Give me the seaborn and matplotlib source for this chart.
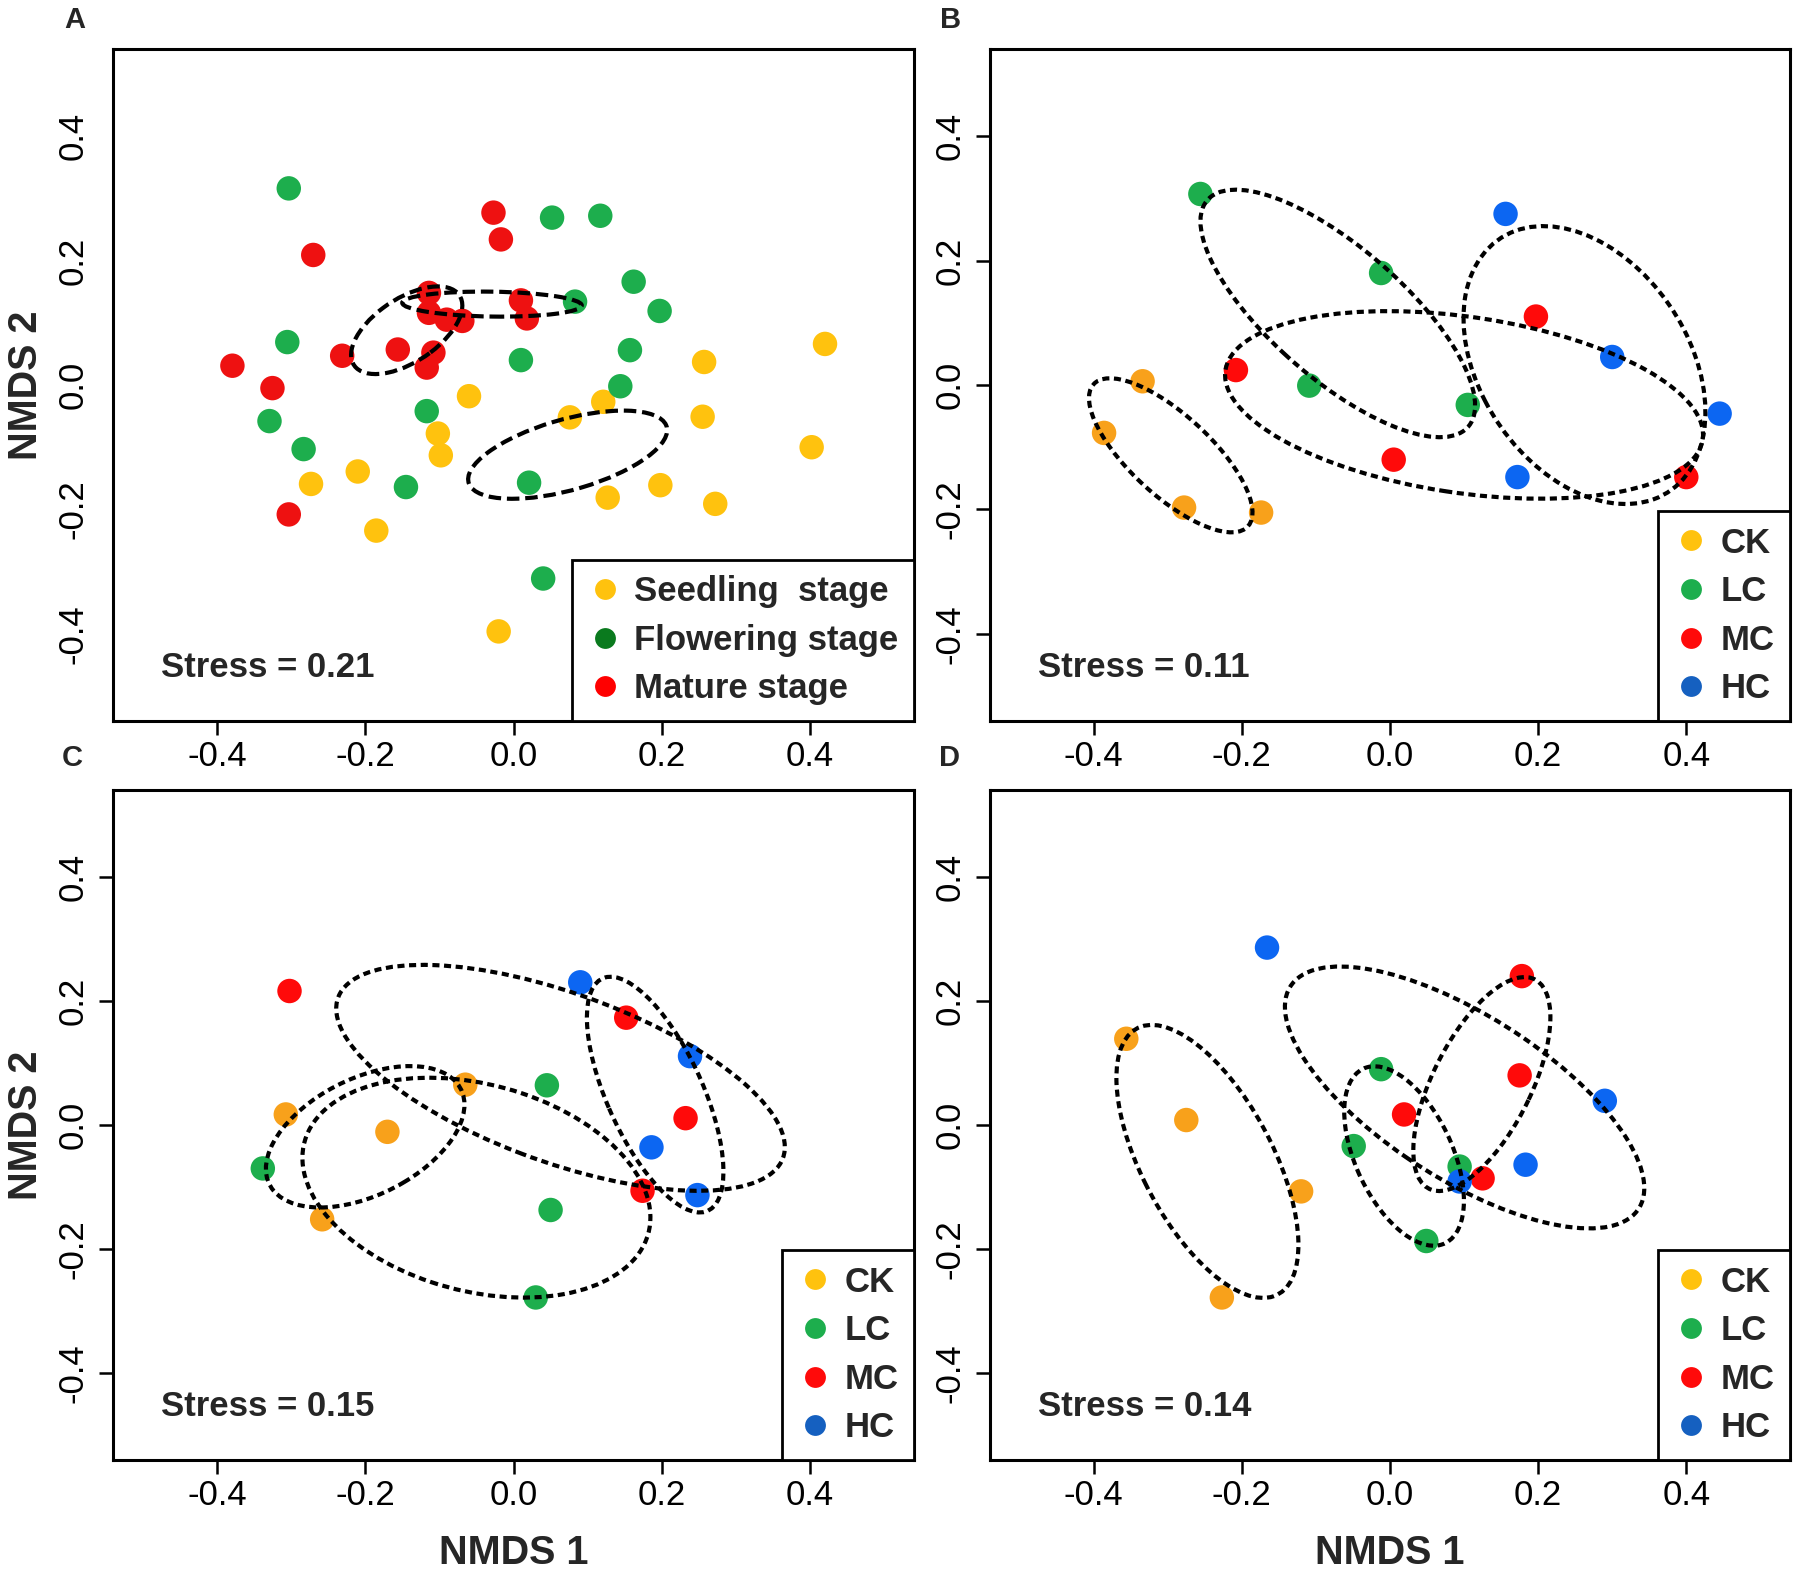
import numpy as np
import pandas as pd
import matplotlib
matplotlib.use("Agg")
import matplotlib.pyplot as plt
import seaborn as sns
from matplotlib.patches import Ellipse
from matplotlib.lines import Line2D

# ---------------- data ----------------
# Panel A (growth stages)
a_seed_x = [0.420, 0.257, -0.060, 0.121, 0.076, 0.255, -0.102, -0.098, 0.402, -0.210, -0.273, 0.198, 0.127, 0.272, -0.185, -0.020]
a_seed_y = [0.066, 0.037, -0.018, -0.027, -0.052, -0.051, -0.078, -0.113, -0.100, -0.139, -0.159, -0.161, -0.181, -0.191, -0.234, -0.396]
a_flow_x = [-0.303, 0.052, 0.117, 0.162, 0.197, 0.083, -0.305, 0.157, 0.010, 0.144, -0.117, -0.329, -0.283, -0.145, 0.021, 0.040]
a_flow_y = [0.316, 0.269, 0.272, 0.166, 0.119, 0.134, 0.069, 0.056, 0.040, -0.002, -0.042, -0.058, -0.103, -0.164, -0.157, -0.311]
a_mat_x = [-0.027, -0.017, -0.270, -0.114, 0.010, -0.114, -0.090, -0.069, 0.018, -0.156, -0.108, -0.231, -0.117, -0.379, -0.325, -0.303]
a_mat_y = [0.277, 0.234, 0.209, 0.148, 0.136, 0.116, 0.105, 0.103, 0.107, 0.057, 0.052, 0.047, 0.028, 0.031, -0.005, -0.208]

# Panel B
b_ck_x = [-0.334, -0.386, -0.278, -0.174]
b_ck_y = [0.006, -0.077, -0.197, -0.205]
b_lc_x = [-0.256, -0.012, -0.109, 0.105]
b_lc_y = [0.307, 0.180, -0.001, -0.032]
b_mc_x = [-0.208, 0.197, 0.005, 0.400]
b_mc_y = [0.024, 0.110, -0.120, -0.148]
b_hc_x = [0.156, 0.300, 0.445, 0.172]
b_hc_y = [0.275, 0.045, -0.046, -0.148]

# Panel C
c_ck_x = [-0.307, -0.170, -0.065, -0.258]
c_ck_y = [0.017, -0.011, 0.065, -0.152]
c_lc_x = [-0.338, 0.045, 0.050, 0.030]
c_lc_y = [-0.070, 0.064, -0.137, -0.278]
c_mc_x = [-0.302, 0.152, 0.232, 0.174]
c_mc_y = [0.216, 0.173, 0.011, -0.106]
c_hc_x = [0.090, 0.238, 0.186, 0.248]
c_hc_y = [0.230, 0.111, -0.036, -0.113]

# Panel D
d_ck_x = [-0.356, -0.275, -0.120, -0.227]
d_ck_y = [0.139, 0.008, -0.107, -0.278]
d_lc_x = [-0.012, -0.049, 0.094, 0.049]
d_lc_y = [0.090, -0.034, -0.067, -0.187]
d_mc_x = [0.178, 0.175, 0.019, 0.125]
d_mc_y = [0.240, 0.080, 0.017, -0.086]
d_hc_x = [-0.166, 0.290, 0.183, 0.094]
d_hc_y = [0.286, 0.039, -0.064, -0.091]

# Ellipses (centre x, centre y, semi-major, semi-minor, angle in degrees)
a_ell_cx = [-0.144, -0.029, 0.073]
a_ell_cy = [0.088, 0.130, -0.112]
a_ell_a = [0.091, 0.121, 0.141]
a_ell_b = [0.048, 0.020, 0.056]
a_ell_ang = [41.8, -1.0, 19.6]

b_ell_cx = [-0.296, -0.0705, 0.100, 0.2625]
b_ell_cy = [-0.113, 0.115, -0.032, 0.032]
b_ell_a = [0.155, 0.254, 0.327, 0.235]
b_ell_b = [0.059, 0.097, 0.141, 0.146]
b_ell_ang = [-49.4, -47.7, -10.4, -66.6]

c_ell_cx = [-0.200, -0.050, 0.0634, 0.191]
c_ell_cy = [-0.019, -0.101, 0.076, 0.049]
c_ell_a = [0.151, 0.244, 0.327, 0.2005]
c_ell_b = [0.090, 0.164, 0.133, 0.066]
c_ell_ang = [35.2, -21.8, -24.6, -70.2]

d_ell_cx = [-0.2465, 0.019, 0.124, 0.1007]
d_ell_cy = [-0.0587, -0.050, 0.066, 0.0444]
d_ell_a = [0.235, 0.1515, 0.1835, 0.2964]
d_ell_b = [0.091, 0.067, 0.068, 0.1246]
d_ell_ang = [-67.6, -70.6, 68.4, -39.3]

stage_labels = ["Seedling  stage", "Flowering stage", "Mature stage"]
trt_labels = ["CK", "LC", "MC", "HC"]
stress_values = ["0.21", "0.11", "0.15", "0.14"]
tick_values = [-0.4, -0.2, 0.0, 0.2, 0.4]

# ---------------- style ----------------
sns.set_style("white")
plt.rcParams["font.family"] = ["Liberation Sans", "DejaVu Sans"]
plt.rcParams["axes.unicode_minus"] = False

stage_point_col = ["#FFC20E", "#1DAE4D", "#EE1111"]
stage_legend_col = ["#FFC20E", "#0A7A1E", "#FF0000"]
trt_point_col = ["#F8A11B", "#1DAE4D", "#FF0A0A", "#0C66F2"]
trt_legend_col = ["#FFC20E", "#1DAE4D", "#FF0A0A", "#1560C0"]

fig = plt.figure(figsize=(18.01, 15.74), dpi=100)
W, H = 1801, 1574
def frac_box(l, t, r, b):
    return [l / W, 1 - b / H, (r - l) / W, (b - t) / H]

axA = fig.add_axes(frac_box(113, 49, 914, 721))
axB = fig.add_axes(frac_box(990, 49, 1790, 721))
axC = fig.add_axes(frac_box(113, 790, 914, 1460))
axD = fig.add_axes(frac_box(990, 790, 1790, 1460))


def make_df(xs, ys, names):
    rows = []
    for x, y, n in zip(xs, ys, names):
        for xi, yi in zip(x, y):
            rows.append((xi, yi, n))
    return pd.DataFrame(rows, columns=["x", "y", "group"])


def draw_panel(ax, df, names, pcols, lcols, ecx, ecy, ea, eb, eang, dash,
               stress, show_yticks=True, xlabel=False, ylabel=False):
    pal = dict(zip(names, pcols))
    sns.scatterplot(data=df, x="x", y="y", hue="group", hue_order=names,
                    palette=pal, s=310, linewidth=0, legend=False, ax=ax, zorder=2)
    for cx, cy, a, b, ang in zip(ecx, ecy, ea, eb, eang):
        ax.add_patch(Ellipse((cx, cy), 2 * a, 2 * b, angle=ang, fill=False,
                             edgecolor="black", lw=3.0, linestyle=(0, dash),
                             capstyle="butt", zorder=3))
    ax.set_xlim(-0.54, 0.54)
    ax.set_ylim(-0.54, 0.54)
    ax.set_xticks(tick_values)
    ax.set_xticklabels([f"{t:.1f}" for t in tick_values])
    ax.set_yticks(tick_values)
    ax.set_yticklabels([f"{t:.1f}" for t in tick_values], rotation=90, va="center")
    ax.tick_params(axis="both", direction="out", length=10, width=1.8,
                   labelsize=25, colors="black", bottom=True, left=True)
    ax.tick_params(axis="x", pad=3.5)
    ax.tick_params(axis="y", pad=7)
    if not show_yticks:
        ax.tick_params(axis="y", color=(0, 0, 0, 0))
    for s in ax.spines.values():
        s.set_visible(True)
        s.set_linewidth(2.2)
        s.set_color("black")
    ax.set_xlabel("")
    ax.set_ylabel("")
    if xlabel:
        ax.set_xlabel("NMDS 1", fontsize=28.5, fontweight="bold")
        ax.xaxis.set_label_coords(0.5, -0.139)
        ax.xaxis.label.set_verticalalignment("center")
    if ylabel:
        ax.set_ylabel("NMDS 2", fontsize=28.5, fontweight="bold")
        ax.yaxis.set_label_coords(-0.108, 0.5)
        ax.yaxis.label.set_verticalalignment("center")
    ax.text(0.06, 0.08, f"Stress = {stress}", transform=ax.transAxes,
            fontsize=25, fontweight="bold", ha="left", va="center")
    handles = [Line2D([], [], marker="o", linestyle="none", markersize=15,
                      markerfacecolor=c, markeredgecolor="none") for c in lcols]
    leg = ax.legend(handles, names, loc="lower right", bbox_to_anchor=(1, 0),
                    borderaxespad=0, frameon=True, fancybox=False,
                    edgecolor="black", framealpha=1,
                    prop={"size": 25, "weight": "bold"},
                    handlelength=1.0, handletextpad=0.35, borderpad=0.45,
                    labelspacing=0.45)
    leg.get_frame().set_linewidth(2.0)


dfA = make_df([a_seed_x, a_flow_x, a_mat_x], [a_seed_y, a_flow_y, a_mat_y], stage_labels)
dfB = make_df([b_ck_x, b_lc_x, b_mc_x, b_hc_x], [b_ck_y, b_lc_y, b_mc_y, b_hc_y], trt_labels)
dfC = make_df([c_ck_x, c_lc_x, c_mc_x, c_hc_x], [c_ck_y, c_lc_y, c_mc_y, c_hc_y], trt_labels)
dfD = make_df([d_ck_x, d_lc_x, d_mc_x, d_hc_x], [d_ck_y, d_lc_y, d_mc_y, d_hc_y], trt_labels)

dashA = (3.0, 1.4)
dashB = (1.7, 1.1)

draw_panel(axA, dfA, stage_labels, stage_point_col, stage_legend_col,
           a_ell_cx, a_ell_cy, a_ell_a, a_ell_b, a_ell_ang, dashA, stress_values[0],
           show_yticks=False, ylabel=True)
draw_panel(axB, dfB, trt_labels, trt_point_col, trt_legend_col,
           b_ell_cx, b_ell_cy, b_ell_a, b_ell_b, b_ell_ang, dashB, stress_values[1])
draw_panel(axC, dfC, trt_labels, trt_point_col, trt_legend_col,
           c_ell_cx, c_ell_cy, c_ell_a, c_ell_b, c_ell_ang, dashB, stress_values[2],
           xlabel=True, ylabel=True)
draw_panel(axD, dfD, trt_labels, trt_point_col, trt_legend_col,
           d_ell_cx, d_ell_cy, d_ell_a, d_ell_b, d_ell_ang, dashB, stress_values[3],
           xlabel=True)

for lab, (px, py) in zip(["A", "B", "C", "D"], [(75, 20), (951, 20), (72, 758), (949, 758)]):
    fig.text(px / W, 1 - py / H, lab, fontsize=21, fontweight="bold",
             ha="center", va="center")

fig.savefig("out.png", dpi=100)
